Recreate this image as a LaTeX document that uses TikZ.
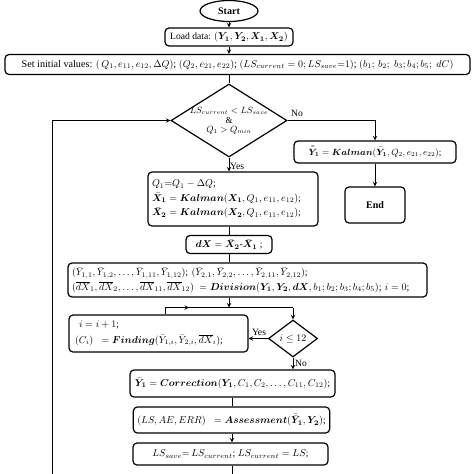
\documentclass[tikz,border=0pt]{standalone}
\usepackage{amsmath}
\usepackage{amssymb}
\usepackage{bm}
\usepackage{fontspec}
\setmainfont{Liberation Serif}
\usetikzlibrary{shapes.geometric}

\begin{document}
\begin{tikzpicture}[x=1pt, y=-1pt, >=stealth,
    every node/.style={font=\fontsize{9.6}{11}\selectfont},
    blk/.style={draw, line width=1.2pt, rounded corners=4pt, inner xsep=4pt, inner ysep=1pt},
    cond/.style={draw, line width=1.2pt, diamond, inner sep=0pt},
    term/.style={draw, line width=1.2pt, ellipse, inner sep=0pt, font=\fontsize{10}{11}\selectfont\bfseries},
    link/.style={line width=1pt}]
    \useasboundingbox (0,0) rectangle (474,474);

    % main column
    \node[term, minimum width=58pt, minimum height=21pt] (start) at (229,11) {Start};
    \node[blk, minimum width=128pt, minimum height=18pt] (load) at (229,37)
        {Load data: $(\bm{Y_1}, \bm{Y_2}, \bm{X_1}, \bm{X_2})$};
    \node[blk, minimum width=465pt, minimum height=20pt, font=\fontsize{10.2}{11}\selectfont] (init) at (237.5,64.5)
        {Set initial values: $(\,Q_1, e_{11}, e_{12}, \Delta Q)$; $(Q_2, e_{21}, e_{22})$; $(LS_{current} = 0; LS_{save}{=}1)$; $(b_1;\, b_2;\; b_3; b_4; b_5;\; dC)$};

    \node[cond, minimum width=116pt, minimum height=73pt] (test) at (229,120.5) {};
    \node[align=center, font=\fontsize{9}{9.5}\selectfont] (testtxt) at (229,121)
        {$LS_{current} < LS_{save}$\\ \&\\ $Q_1 > Q_{min}$};

    \node[blk, minimum width=162pt, minimum height=22pt, font=\fontsize{9.2}{11}\selectfont] (smooth) at (375,152)
        {$\bar{\bar{\bm{Y}}}_{\bm{1}} = \bm{Kalman}(\bar{\bm{Y}}_{\bm{1}}, Q_2, e_{21}, e_{22})$;};
    \node[blk, minimum width=60pt, minimum height=36pt, font=\fontsize{10}{11}\selectfont\bfseries] (stop) at (375,205) {End};

    \node[blk, text width=162pt, minimum height=54pt, align=left, font=\fontsize{9.6}{14.5}\selectfont] (kal) at (233,199)
        {$Q_1{=}Q_1 - \Delta Q$;\\
         $\bar{\bm{X}}_{\bm{1}} = \bm{Kalman}(\bm{X_1}, Q_1, e_{11}, e_{12})$;\\
         $\bar{\bm{X}}_{\bm{2}} = \bm{Kalman}(\bm{X_2}, Q_1, e_{11}, e_{12})$;};
    \node[blk, minimum width=86pt, minimum height=18pt] (diff) at (229,244.5)
        {$\bm{dX} = \bar{\bm{X}}_{\bm{2}}$-$\bar{\bm{X}}_{\bm{1}}$ ;};
    \node[blk, text width=351pt, minimum height=34pt, align=left, font=\fontsize{9.9}{14.5}\selectfont] (div) at (247.5,280)
        {$(\bar{Y}_{1,1}, \bar{Y}_{1,2}, \dots, \bar{Y}_{1,11}, \bar{Y}_{1,12})$; $(\bar{Y}_{2,1}, \bar{Y}_{2,2}, \dots, \bar{Y}_{2,11}, \bar{Y}_{2,12})$;\\
         $(\overline{dX}_1, \overline{dX}_2, \dots, \overline{dX}_{11}, \overline{dX}_{12})\; = \bm{Division}(\bm{Y_1}, \bm{Y_2}, \bm{dX}, b_1; b_2; b_3; b_4; b_5)$; $i = 0$;};

    % loop over i
    \node[blk, text width=171pt, minimum height=37pt, align=left, font=\fontsize{9.8}{16}\selectfont] (find) at (158.5,333.5)
        {\hspace{6pt}$i = i + 1$;\\
         \hspace{2pt}$(C_i)\;\; = \bm{Finding}(\bar{Y}_{1,i}, \bar{Y}_{2,i}, \overline{dX}_i)$;};
    \node[cond, minimum width=49pt, minimum height=37pt] (count) at (293,338.5) {};
    \node[font=\fontsize{10}{11}\selectfont] (counttxt) at (293,338.5) {$i \leq 12$};

    \node[blk, minimum width=205pt, minimum height=27pt] (corr) at (232.5,383.5)
        {$\bar{\bm{Y}}_{\bm{1}} = \bm{Correction}(\bm{Y_1}, C_1, C_2, \dots, C_{11}, C_{12})$;};
    \node[blk, minimum width=193pt, minimum height=26pt] (assess) at (231.5,420)
        {$(LS, AE, ERR)\;\; = \bm{Assessment}(\bar{\bar{\bm{Y}}}_{\bm{1}}, \bm{Y_2})$;};
    \node[blk, minimum width=195pt, minimum height=22pt] (save) at (230.5,454)
        {$LS_{save}{=}\, LS_{current}$; $LS_{current} = LS$;};

    \coordinate (join) at (229,307.5);
    \coordinate (back) at (165,307.5);
    \coordinate (mid) at (189,307.5);
    \coordinate (out) at (232,480);
    \coordinate (ret) at (52,480);

    % connectors
    \draw[link, ->] (start) -- (load);
    \draw[link, ->] (load.south) -- (load.south |- init.north);
    \draw[link] (test.north |- init.south) -- (test.north);
    \draw[link, ->] (test.east) -- (test.east -| smooth.north) -- (smooth.north);
    \node[anchor=south west] at (test.east) {No};
    \draw[link, ->] (smooth) -- (stop);
    \draw[link, ->] (test.south) -- (test.south |- kal.north);
    \node[anchor=west, inner sep=1pt] at (229,166) {Yes};
    \draw[link] (diff.north |- kal.south) -- (diff.north);
    \draw[link] (diff.south) -- (diff.south |- div.north);
    \draw[link, ->] (diff.south |- div.south) -- (join);
    \draw[link] (find.north -| back) -- (back) -- (back -| count.north);
    \draw[link, ->] (back) -- (mid);
    \draw[link, ->] (join -| count.north) -- (count.north);
    \draw[link, ->] (count.west) -- (count.west -| find.east);
    \node[anchor=south, inner sep=1pt] at (259,337) {Yes};
    \draw[link, ->] (count.south) -- (count.south |- corr.north);
    \node[anchor=west, inner sep=1pt] at (294,363) {No};
    \draw[link] (corr.south -| out) -- (assess.north -| out);
    \draw[link, ->] (assess.south -| out) -- (save.north -| out);
    \draw[link] (save.south -| out) -- (out);
    \draw[link, ->] (ret) -- (ret |- test.west) -- (test.west);
\end{tikzpicture}
\end{document}
